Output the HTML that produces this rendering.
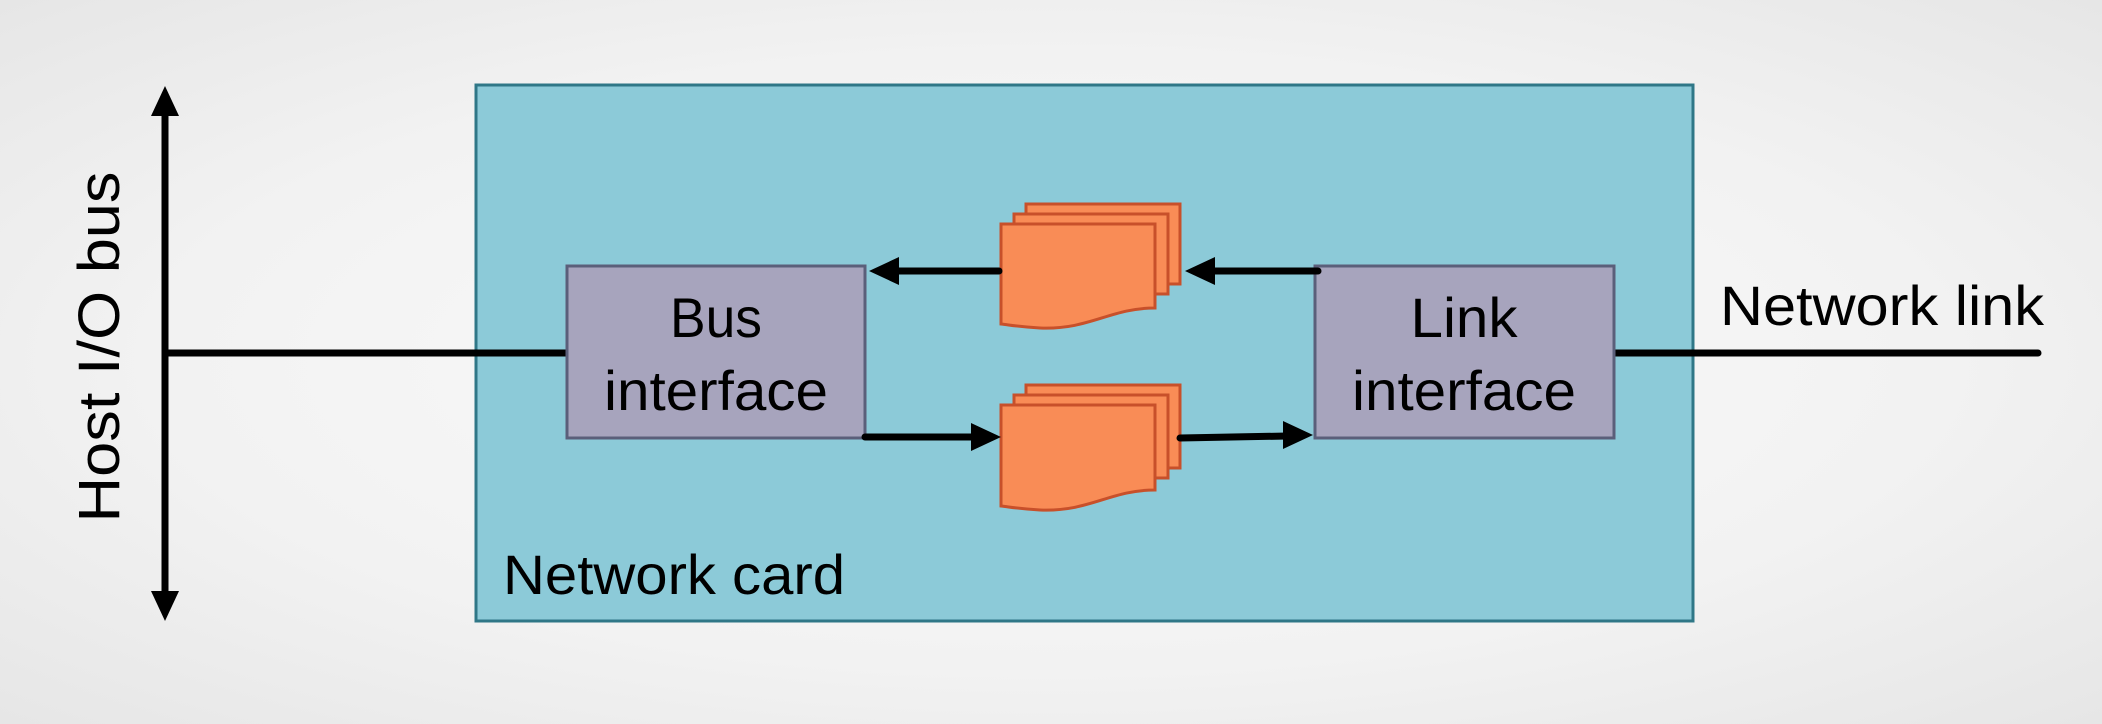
<!DOCTYPE html>
<html><head><meta charset="utf-8"><style>
html,body{margin:0;padding:0;}
body{width:2102px;height:724px;overflow:hidden;background:radial-gradient(ellipse at 50% 50%,#fbfbfb 0%,#f2f2f2 60%,#e6e6e6 100%);font-family:"Liberation Sans",sans-serif;}
</style></head><body>
<svg width="2102" height="724" viewBox="0 0 2102 724" xmlns="http://www.w3.org/2000/svg" style="position:absolute;left:0;top:0">
<rect x="476" y="85" width="1217" height="536" fill="#8ccad8" stroke="#2f7787" stroke-width="3"/>
<line x1="165" y1="110" x2="165" y2="598" stroke="#000" stroke-width="7"/>
<path d="M165,86 L151,116 L179,116 z" fill="#000"/>
<path d="M165,621 L151,591 L179,591 z" fill="#000"/>
<line x1="165" y1="353" x2="567" y2="353" stroke="#000" stroke-width="7"/>
<line x1="1614" y1="353" x2="2038" y2="353" stroke="#000" stroke-width="7" stroke-linecap="round"/>
<rect x="567" y="266" width="298" height="172" fill="#a7a4bd" stroke="#5b5f7a" stroke-width="3"/>
<rect x="1315" y="266" width="299" height="172" fill="#a7a4bd" stroke="#5b5f7a" stroke-width="3"/>
<text x="716" y="337" font-size="56" text-anchor="middle" textLength="92" lengthAdjust="spacingAndGlyphs" fill="#000">Bus</text>
<text x="716" y="410" font-size="56" text-anchor="middle" textLength="224" lengthAdjust="spacingAndGlyphs" fill="#000">interface</text>
<text x="1464" y="337" font-size="56" text-anchor="middle" textLength="107" lengthAdjust="spacingAndGlyphs" fill="#000">Link</text>
<text x="1464" y="410" font-size="56" text-anchor="middle" textLength="224" lengthAdjust="spacingAndGlyphs" fill="#000">interface</text>
<g fill="#f98c56" stroke="#c8502a" stroke-width="3">
<path d="M1026,204 H1180 V284 H1026 z"/>
<path d="M1014,214 H1168 V294 H1014 z"/>
<path d="M1001,224 H1155 V308 C1110,308 1090,330 1040,328 C1020,327 1010,325 1001,324 z"/>
</g>
<g fill="#f98c56" stroke="#c8502a" stroke-width="3">
<path d="M1026,385 H1180 V468 H1026 z"/>
<path d="M1014,395 H1168 V478 H1014 z"/>
<path d="M1001,405 H1155 V490 C1110,490 1090,512 1040,510 C1020,509 1010,507 1001,506 z"/>
</g>
<line x1="999" y1="271" x2="895" y2="271" stroke="#000" stroke-width="7" stroke-linecap="round"/>
<path d="M869,271 L899,257 L899,285 z" fill="#000"/>
<line x1="1318" y1="271" x2="1210" y2="271" stroke="#000" stroke-width="7" stroke-linecap="round"/>
<path d="M1185,271 L1215,257 L1215,285 z" fill="#000"/>
<line x1="865" y1="437" x2="975" y2="437" stroke="#000" stroke-width="7" stroke-linecap="round"/>
<path d="M1001,437 L971,423 L971,451 z" fill="#000"/>
<line x1="1180" y1="438" x2="1287" y2="436" stroke="#000" stroke-width="7" stroke-linecap="round"/>
<path d="M1313,435 L1283,421 L1283,449 z" fill="#000"/>
<text x="1720" y="325" font-size="56" textLength="324" lengthAdjust="spacingAndGlyphs" fill="#000">Network link</text>
<text x="503" y="594" font-size="56" textLength="342" lengthAdjust="spacingAndGlyphs" fill="#000">Network card</text>
<text transform="translate(119,347) rotate(-90)" font-size="58" text-anchor="middle" textLength="351" lengthAdjust="spacingAndGlyphs" fill="#000">Host I/O bus</text>
</svg>
</body></html>
